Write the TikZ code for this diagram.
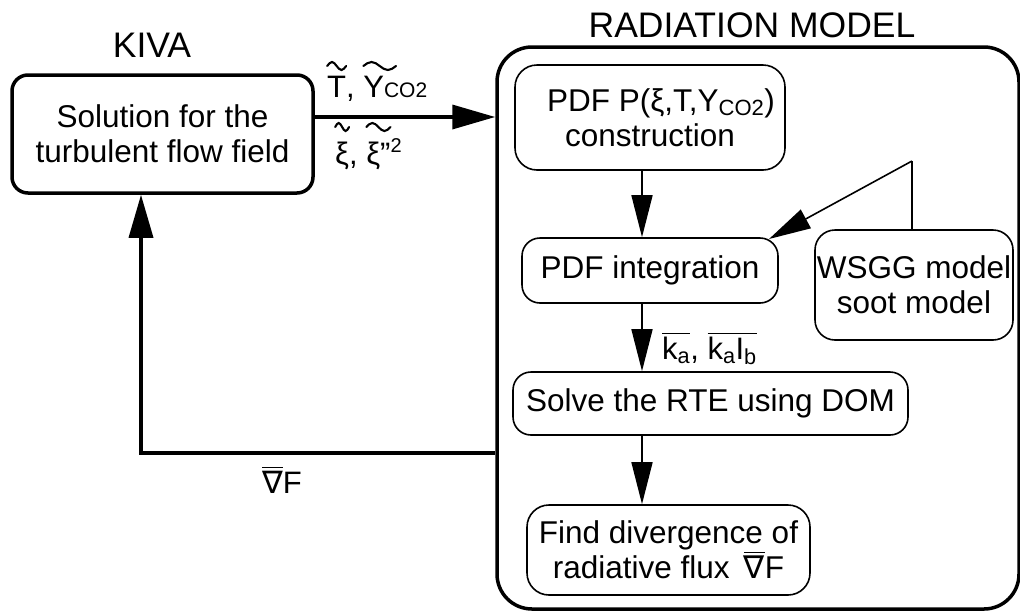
\RequirePackage{fix-cm}
\documentclass[tikz,border=0pt]{standalone}
\usepackage{amsmath}
\usepackage{fontspec}
\setmainfont{Liberation Sans}
\newfontfamily\dejavu{DejaVu Sans}
\usetikzlibrary{arrows.meta,calc}
% wide tilde drawn over a piece of text; optional argument extends it to the right
\newcommand\wtilraise{31}
\newcommand\wtil[2][0pt]{\tikz[baseline=(w.base)]{\node[inner sep=0pt,outer sep=0pt,draw=none](w){#2};%
  \draw[overlay,line width=2.1pt,line cap=round] let \p1=(w.base west),\p2=(w.base east),\n1={(\x2+#1-\x1)/4},\n2={\wtilraise*1pt} in
  (\x1,\y1+\n2) sin (\x1+\n1,\y1+\n2+4pt) cos (\x1+2*\n1,\y1+\n2) sin (\x1+3*\n1,\y1+\n2-4pt) cos (\x1+4*\n1,\y1+\n2);}}
\begin{document}
\begin{tikzpicture}[x=1pt,y=-1pt,
  thickbox/.style={draw, line width=3.5pt, rounded corners=16pt, align=center, inner sep=0pt},
  thinbox/.style={draw, line width=1.6pt, rounded corners=20pt, align=center, inner sep=0pt},
  thickarrow/.style={line width=3.5pt, -{Triangle[length=43pt,width=24pt]}},
  thinarrow/.style={line width=1.6pt, -{Triangle[length=42pt,width=21pt]}},
  thinline/.style={line width=1.6pt},
  boxfont/.style={font=\fontsize{31.5}{35}\selectfont},
  titlefont/.style={font=\fontsize{35.5}{40}\selectfont},
  lblfont/.style={font=\fontsize{31}{35}\selectfont}
]
\useasboundingbox (0,0) rectangle (1020,614);

% titles
\node[titlefont] (kivat) at (152,45) {KIVA};
\node[titlefont] (radt) at (752,25) {RADIATION MODEL};

% outer box
\node[draw, line width=3.5pt, rounded corners=35pt, minimum width=522pt, minimum height=562pt, inner sep=0pt] (outer) at (758,328) {};

% KIVA box
\node[thickbox, boxfont, minimum width=301pt, minimum height=118pt] (kiva) at (162.5,134) {Solution for the\\turbulent flow field};

% inner boxes
\node[thinbox, boxfont, minimum width=270pt, minimum height=105pt, rounded corners=22pt] (pdf) at (650,117.5) {\hspace*{22pt}PDF P(ξ,T,Y\textsubscript{CO2})\\construction};
\node[thinbox, boxfont, minimum width=256pt, minimum height=65pt, rounded corners=18pt] (pdfint) at (650,270.5) {PDF integration};
\node[thinbox, boxfont, minimum width=198pt, minimum height=110pt] (wsgg) at (914,285) {WSGG model\\soot model};
\node[thinbox, boxfont, minimum width=395pt, minimum height=63pt, rounded corners=18pt] (solve) at (710.5,403.5) {Solve the RTE using DOM};
\node[thinbox, boxfont, minimum width=283pt, minimum height=90pt, rounded corners=22pt] (find) at (668.5,550) {Find divergence of\\radiative flux \,$\overline{\text{\dejavu ∇}}$F};

% helper coordinates
\coordinate (col) at (642,0);
\coordinate (ya) at (0,117);
\coordinate (yb) at (0,453);
\coordinate (fbc) at (141,453);
\coordinate (wcol) at (912,0);
\coordinate (bend) at (912,161);
\coordinate (tipw) at (769,239);

% main arrow KIVA -> radiation model
\draw[thickarrow] (kiva.east |- ya) -- (outer.west |- ya);
\node[lblfont, anchor=base west, inner sep=0pt] (lblTY) at (327,97) {\wtil{T}, \wtil[12pt]{Y}{\fontsize{21}{24}\selectfont CO2}};
\node[lblfont, anchor=base west, inner sep=0pt] (lblxi) at (335,164) {\def\wtilraise{37}\wtil{ξ}, \wtil{ξ''}\raisebox{12pt}{\fontsize{20}{22}\selectfont 2}};

% feedback arrow
\draw[thickarrow] (outer.west |- yb) -- (fbc) -- (kiva.south -| fbc);
\node[lblfont, anchor=base west, inner sep=0pt] (lblF) at (262,493) {$\overline{\text{\dejavu ∇}}$F};

% inner arrows
\draw[thinarrow] (pdf.south -| col) -- (pdfint.north -| col);
\draw[thinarrow] (pdfint.south -| col) -- (solve.north -| col);
\draw[thinarrow] (solve.south -| col) -- (find.north -| col);
\node[lblfont, anchor=base west, inner sep=0pt] (lblk) at (662,359) {$\overline{\text{k}_\text{a}}$, $\overline{\text{k}_\text{a}\text{I}_\text{b}}$};

% WSGG connector
\draw[thinline] (wsgg.north -| wcol) -- (bend);
\draw[thinarrow] (bend) -- (tipw);
\end{tikzpicture}
\end{document}
